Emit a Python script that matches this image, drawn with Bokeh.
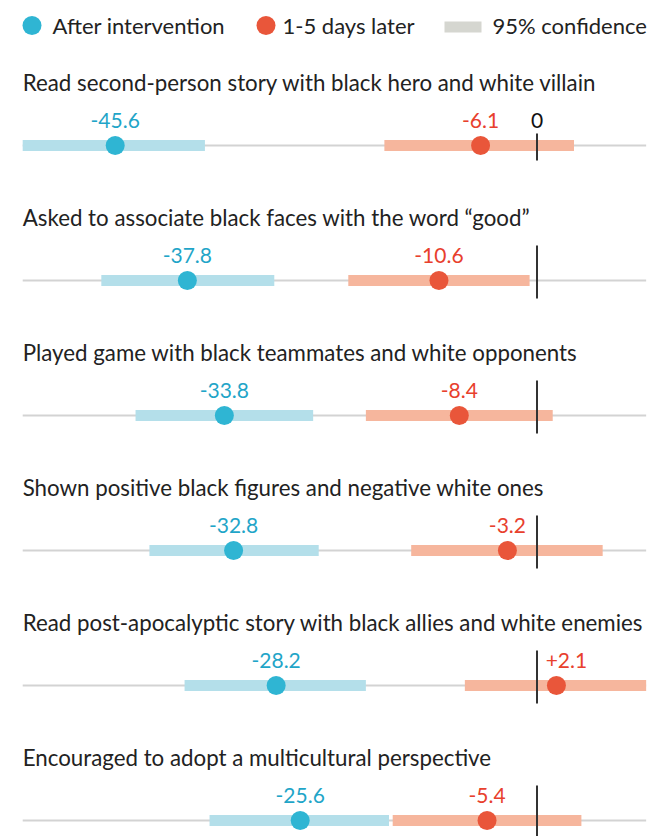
from bokeh.plotting import figure
from bokeh.models import Range1d, ColumnDataSource
from bokeh.core.properties import value
from bokeh.embed import file_html
from bokeh.resources import INLINE

# ---------------- data ----------------
titles = [
    "Read second-person story with black hero and white villain",
    "Asked to associate black faces with the word \u201cgood\u201d",
    "Played game with black teammates and white opponents",
    "Shown positive black figures and negative white ones",
    "Read post-apocalyptic story with black allies and white enemies",
    "Encouraged to adopt a multicultural perspective",
]
after = [-45.6, -37.8, -33.8, -32.8, -28.2, -25.6]
after_lo = [-55.6, -47.1, -43.4, -41.9, -38.1, -35.4]
after_hi = [-35.9, -28.4, -24.2, -23.6, -18.5, -16.0]
later = [-6.1, -10.6, -8.4, -3.2, 2.1, -5.4]
later_lo = [-16.5, -20.4, -18.5, -13.6, -7.8, -15.6]
later_hi = [4.0, -0.8, 1.7, 7.1, 11.8, 4.8]
axis_min, axis_max = -55.6, 11.8
legend_labels = ["After intervention", "1-5 days later", "95% confidence"]

# ---------------- layout ----------------
W, H = 669, 836
ZERO_PX = 536.5      # x of the zero line
PX_PER_UNIT = 9.25
ROW0_PX = 145        # y of first row line
ROW_STEP = 135
TXT_SHIFT = -8       # empirical correction of text baseline

FONT = "Lato"
BLUE_DOT, BLUE_CI, BLUE_TXT = "#2fb5d3", "#b4dfea", "#1fa5c8"
RED_DOT, RED_CI, RED_TXT = "#e9563a", "#f6b69d", "#e8402d"
GRAY_LINE, GRAY_LEG, ZERO_C, TXT = "#d3d3d3", "#d5d6d0", "#333333", "#222222"


def px_x(px):
    return (px - ZERO_PX) / PX_PER_UNIT


def px_y(px):
    return (px - ROW0_PX) / ROW_STEP


p = figure(
    width=W, height=H,
    x_range=Range1d(px_x(0), px_x(W)),
    y_range=Range1d(start=px_y(H), end=px_y(0)),
    output_backend="svg", toolbar_location=None,
    x_axis_location=None, y_axis_location=None,
    min_border=0, outline_line_color=None,
    background_fill_color="white", border_fill_color="white",
)
p.xgrid.visible = False
p.ygrid.visible = False

rows = list(range(len(titles)))
src = ColumnDataSource(dict(
    y=rows, title=titles,
    after=after, after_lo=after_lo, after_hi=after_hi,
    later=later, later_lo=later_lo, later_hi=later_hi,
    after_lbl=[f"{v:+.1f}" if v > 0 else f"{v:.1f}" for v in after],
    later_lbl=[f"{v:+.1f}" if v > 0 else f"{v:.1f}" for v in later],
    later_off=[10 if v > 0 else 0 for v in later],
    x0=[axis_min] * len(rows), x1=[axis_max] * len(rows),
    zx=[0] * len(rows),
    z0=[r - (12 if r == 0 else 35) / ROW_STEP for r in rows],
    z1=[r + (15 if r == 0 else 18) / ROW_STEP for r in rows],
))

# base lines
p.segment(x0="x0", x1="x1", y0="y", y1="y", source=src, line_color=GRAY_LINE, line_width=2)
# confidence bars
p.segment(x0="after_lo", x1="after_hi", y0="y", y1="y", source=src,
          line_color=BLUE_CI, line_width=11, line_cap="butt")
p.segment(x0="later_lo", x1="later_hi", y0="y", y1="y", source=src,
          line_color=RED_CI, line_width=11, line_cap="butt")
# zero lines
p.segment(x0="zx", x1="zx", y0="z0", y1="z1", source=src, line_color=ZERO_C, line_width=2)
# points
p.scatter(x="after", y="y", source=src, size=19, fill_color=BLUE_DOT, line_color=None)
p.scatter(x="later", y="y", source=src, size=19, fill_color=RED_DOT, line_color=None)

# titles
p.text(x="x0", y="y", text="title", source=src, y_offset=-55 + TXT_SHIFT,
       text_font=value(FONT), text_font_size="22.3px", text_color=TXT,
       text_align="left", text_baseline="alphabetic")
# value labels
p.text(x="after", y="y", text="after_lbl", source=src, y_offset=-17 + TXT_SHIFT,
       text_font=value(FONT), text_font_size="21px", text_color=BLUE_TXT,
       text_align="center", text_baseline="alphabetic")
p.text(x="later", y="y", text="later_lbl", source=src, y_offset=-17 + TXT_SHIFT,
       x_offset="later_off",
       text_font=value(FONT), text_font_size="21px", text_color=RED_TXT,
       text_align="center", text_baseline="alphabetic")
p.text(x=[0], y=[rows[0]], text=["0"], y_offset=-17 + TXT_SHIFT,
       text_font=value(FONT), text_font_size="21px", text_color="#111111",
       text_align="center", text_baseline="alphabetic")

# legend (drawn manually)
ly = px_y(25)
p.scatter(x=[px_x(31.5)], y=[ly], size=19, fill_color=BLUE_DOT, line_color=None)
p.scatter(x=[px_x(265.5)], y=[ly], size=19, fill_color=RED_DOT, line_color=None)
p.rect(x=[px_x(462.5)], y=[px_y(26.5)], width=37, height=11,
       width_units="screen", height_units="screen", fill_color=GRAY_LEG, line_color=None)
p.text(x=[px_x(52), px_x(282), px_x(492)], y=[ly] * 3, text=legend_labels,
       y_offset=8 + TXT_SHIFT,
       text_font=value(FONT), text_font_size="22px", text_color=TXT,
       text_align="left", text_baseline="alphabetic")

open("out.html", "w").write(file_html(p, INLINE))
